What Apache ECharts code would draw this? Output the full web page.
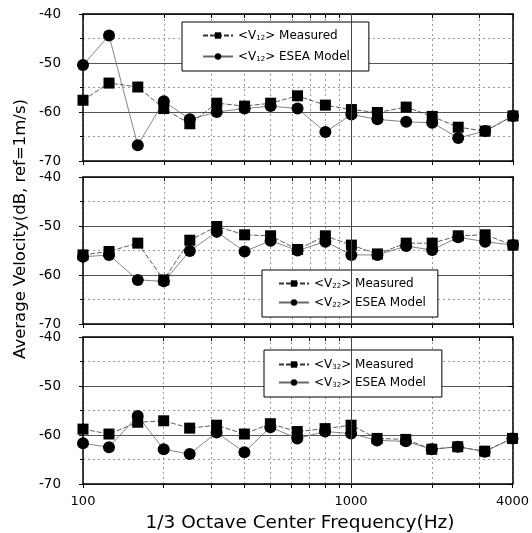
<!DOCTYPE html>
<html><head><meta charset="utf-8">
<script src="https://cdn.jsdelivr.net/npm/echarts@6/dist/echarts.min.js"></script>
<style>html,body{margin:0;padding:0;background:#fff}#c{width:532px;height:533px}</style>
</head><body><div id="c"></div>
<script>
const freqs = [100,125,160,200,250,315,400,500,630,800,1000,1250,1600,2000,2500,3150,4000];
const v12Measured = [-57.6,-54.1,-54.9,-59.3,-62.4,-58.2,-58.8,-58.2,-56.7,-58.6,-59.5,-60.1,-59.0,-60.9,-63.1,-63.9,-60.8];
const v12Esea     = [-50.4,-44.4,-66.8,-57.8,-61.5,-60.0,-59.3,-58.8,-59.3,-64.1,-60.5,-61.5,-62.0,-62.2,-65.3,-63.9,-60.8];
const v22Measured = [-55.9,-55.2,-53.5,-61.0,-52.9,-50.1,-51.8,-52.0,-54.8,-52.0,-53.9,-55.7,-53.5,-53.5,-52.0,-51.8,-53.9];
const v22Esea     = [-56.3,-55.9,-61.0,-61.3,-55.1,-51.2,-55.2,-53.0,-55.0,-53.2,-55.9,-55.9,-54.1,-54.9,-52.3,-53.2,-53.9];
const v32Measured = [-58.8,-59.8,-57.4,-57.1,-58.6,-58.0,-59.8,-57.7,-59.3,-58.7,-58.0,-60.7,-60.9,-62.9,-62.4,-63.3,-60.7];
const v32Esea     = [-61.7,-62.5,-56.1,-62.9,-63.9,-59.5,-63.5,-58.4,-60.7,-59.3,-59.7,-61.1,-61.3,-62.9,-62.4,-63.4,-60.7];
const xTickValues = [100,200,300,400,500,600,700,800,900,1000,2000,3000,4000];
const xLabelValues = [100,1000,4000];
const panelSubs = ['12','22','32'];
const panelData = [[v12Measured,v12Esea],[v22Measured,v22Esea],[v32Measured,v32Esea]];
const xTitle = '1/3 Octave Center Frequency(Hz)';
const yTitle = 'Average Velocity(dB, ref=1m/s)';

const FONT = 'DejaVu Sans, sans-serif';
const tops = [14,177,337];
const legendPos = [
  {left:182,top:22,padding:[6,19,7,20],itemGap:6},
  {left:262,top:270,padding:[6,12,7,16],itemGap:4},
  {left:264,top:350,padding:[7,16,7,14],itemGap:3}];
const grid=[], xAxis=[], yAxis=[], series=[], legend=[];
tops.forEach((t,i)=>{
  grid.push({left:83,right:19,top:t,height:147});
  const last = i===2;
  xAxis.push({type:'log',logBase:10,min:100,max:4000,gridIndex:i,position:'bottom',
    axisLine:{show:true,lineStyle:{color:'#000',width:1.5}},
    axisTick:{show:true,inside:false,length:4,customValues:xTickValues,lineStyle:{color:'#000'}},
    axisLabel:{show:last,customValues:xLabelValues,formatter:v=>String(Math.round(v)),
      color:'#000',fontSize:13,fontFamily:FONT,margin:11},
    splitLine:{show:true,lineStyle:{color:'#999',type:[2,3],width:1}}});
  xAxis.push({type:'log',logBase:10,min:100,max:4000,gridIndex:i,position:'top',
    axisLine:{show:true,lineStyle:{color:'#000',width:1.5}},
    axisTick:{show:true,inside:true,length:4,customValues:xTickValues,lineStyle:{color:'#000'}},
    axisLabel:{show:false},splitLine:{show:false}});
  yAxis.push({type:'value',min:-70,max:-40,interval:10,gridIndex:i,position:'left',
    axisLine:{show:true,lineStyle:{color:'#000',width:1.5}},
    axisTick:{show:true,length:4,lineStyle:{color:'#000'}},
    minorTick:{show:true,splitNumber:2,length:3,lineStyle:{color:'#000'}},
    axisLabel:{color:'#000',fontSize:13.5,fontFamily:FONT,margin:22},
    splitLine:{show:true,lineStyle:{color:'#555',width:1}},
    minorSplitLine:{show:true,lineStyle:{color:'#999',type:[2,3],width:1}}});
  yAxis.push({type:'value',min:-70,max:-40,interval:10,gridIndex:i,position:'right',
    axisLine:{show:true,lineStyle:{color:'#000',width:1.5}},
    axisTick:{show:true,inside:true,length:4,lineStyle:{color:'#000'}},
    axisLabel:{show:false},splitLine:{show:false}});
  const sub = panelSubs[i];
  const nm = 'V'+sub+' Measured', ne = 'V'+sub+' ESEA Model';
  const [m,e] = panelData[i];
  series.push({name:nm,type:'line',xAxisIndex:2*i,yAxisIndex:2*i,
    data:freqs.map((f,k)=>[f,m[k]]),symbol:'rect',symbolSize:11,
    itemStyle:{color:'#000'},lineStyle:{color:'#333',width:0.8,type:[5,2]},
    markLine:{silent:true,symbol:'none',label:{show:false},
      lineStyle:{color:'#444',type:'solid',width:1},data:[{xAxis:1000}]}});
  series.push({name:ne,type:'line',xAxisIndex:2*i,yAxisIndex:2*i,
    data:freqs.map((f,k)=>[f,e[k]]),symbol:'circle',symbolSize:12,
    itemStyle:{color:'#000'},lineStyle:{color:'#666',width:0.8}});
  const lp = legendPos[i];
  legend.push({data:[nm,ne],orient:'vertical',selectedMode:false,left:lp.left,top:lp.top,
    backgroundColor:'#fff',borderColor:'#000',borderWidth:1,padding:lp.padding,
    itemGap:lp.itemGap,itemWidth:30,itemHeight:8,
    formatter:n=>n.replace('V'+sub,'<V{sub|'+sub+'}>'),
    textStyle:{color:'#000',fontSize:12,fontFamily:FONT,lineHeight:15,
      rich:{sub:{fontSize:7,fontFamily:FONT,color:'#000',lineHeight:15,padding:[6,0,0,0]}}}});
});
const graphic = [
  {type:'text',x:21,y:229,rotation:Math.PI/2,silent:true,
   style:{text:yTitle,fill:'#000',font:'16.5px '+FONT,align:'center',verticalAlign:'middle'}},
  {type:'text',x:300,y:523,silent:true,
   style:{text:xTitle,fill:'#000',font:'18.5px '+FONT,align:'center',verticalAlign:'middle'}}
];
const chart = echarts.init(document.getElementById('c'),null,{renderer:'canvas'});
chart.setOption({animation:false,backgroundColor:'#fff',grid,xAxis,yAxis,series,legend,graphic});
</script></body></html>
